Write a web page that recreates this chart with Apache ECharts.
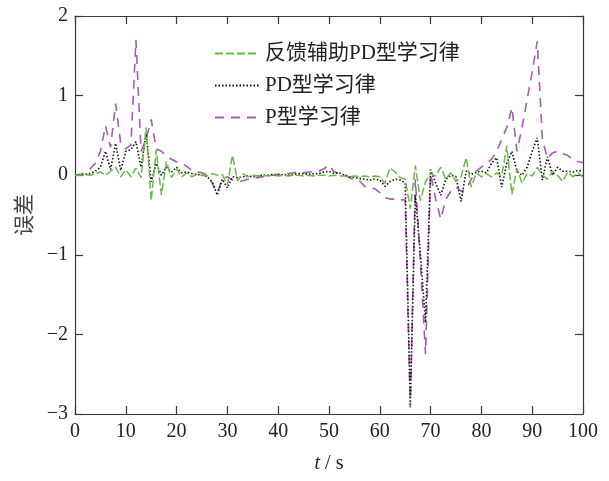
<!DOCTYPE html>
<html>
<head>
<meta charset="utf-8">
<script src="https://cdn.jsdelivr.net/npm/echarts@6/dist/echarts.min.js"></script>
<style>
  html, body { margin: 0; padding: 0; background: #fff; }
  #chart { width: 609px; height: 481px; }
</style>
</head>
<body>
<div id="chart"></div>
<script>
// Tracking error of three iterative learning laws, sampled once per second, t = 0 … 100 s
const seriesNames = ['反馈辅助PD型学习律', 'PD型学习律', 'P型学习律'];

const errFeedbackPD = [
  0, 0.0, 0.01, 0.0, 0.02, 0.04, 0.0, 0.05, 0.1, -0.02,
  0.07, -0.02, 0.09, -0.03, 0.6, -0.32, 0.32, -0.25, 0.17, -0.03,
  0.08, -0.02, 0.03, -0.02, 0.01, 0.0, -0.01, 0.02, 0.0, 0.01,
  -0.12, 0.25, -0.07, 0.02, -0.02, 0.0, -0.01, 0.0, -0.01, 0.0,
  -0.01, 0.0, -0.01, 0.0, 0.0, -0.01, 0.0, -0.01, 0.0, 0.0,
  -0.01, 0.0, -0.01, -0.01, -0.02, -0.01, -0.02, -0.01, -0.02, -0.01,
  -0.02, -0.1, 0.09, 0.04, -0.03, -0.05, -0.42, 0.12, -0.32, -0.08,
  0.02, -0.01, 0.1, -0.05, 0.03, -0.08, -0.02, 0.22, -0.15, 0.03,
  -0.02, 0.02, -0.02, 0.03, -0.01, 0.37, -0.24, 0.08, -0.1, 0.02,
  -0.01, 0.1, 0.0, -0.05, 0.05, 0.0, -0.08, 0.04, -0.02, 0.03,
  -0.02
];

const errPD = [
  0, 0.0, 0.01, 0.02, 0.05, 0.1, 0.3, 0.07, 0.4, 0.06,
  0.3, 0.32, 0.42, 0.1, 0.52, -0.08, 0.15, 0.0, 0.1, 0.04,
  0.1, 0.03, 0.04, 0.02, 0.01, 0.0, -0.02, -0.08, -0.25, -0.05,
  -0.16, -0.02, -0.03, -0.02, -0.01, -0.02, -0.01, 0.0, 0.0, 0.01,
  0.0, 0.01, 0.0, 0.01, 0.02, 0.02, 0.01, 0.02, 0.02, 0.04,
  0.05, 0.02, 0.03, 0.0, -0.02, -0.03, -0.04, -0.05, -0.06, -0.05,
  -0.06, -0.14, -0.08, -0.05, -0.06, -0.1, -2.88, -0.25, -1.0, -1.85,
  0.07, -0.1, -0.25, -0.05, 0.0, -0.02, -0.33, 0.05, 0.01, 0.04,
  0.05, 0.03, 0.15, 0.22, -0.15, 0.15, 0.3, 0.05, 0.0, 0.1,
  0.3, 0.47, -0.06, 0.23, 0.0, 0.1, 0.05, 0.05, 0.04, 0.06,
  0.05
];

const errP = [
  0, 0.01, 0.03, 0.08, 0.15, 0.3, 0.62, 0.35, 0.9, 0.4,
  0.33, 0.38, 1.7, 0.3, 0.45, 0.7, 0.33, 0.3, 0.24, 0.2,
  0.17, 0.15, 0.11, 0.06, 0.04, 0.03, 0.0, -0.1, -0.22, -0.05,
  -0.02, -0.06, -0.08, -0.07, -0.05, -0.04, -0.03, -0.02, 0.0, 0.0,
  0.01, 0.02, 0.02, 0.03, 0.04, 0.03, 0.04, 0.04, 0.05, 0.08,
  0.13, 0.04, 0.02, 0.01, -0.03, -0.06, -0.07, -0.14, -0.16, -0.17,
  -0.22, -0.28, -0.3, -0.3, -0.31, -0.31, -2.92, -0.05, -1.1, -2.25,
  0.02, -0.3, -0.55, -0.3, -0.2, -0.15, -0.2, -0.18, -0.05, 0.05,
  0.1, 0.15, 0.2, 0.3, 0.45, 0.6, 0.85, 0.3, 0.6, 0.95,
  1.3, 1.68, 0.45, 0.21, 0.28, 0.3, 0.27, 0.25, 0.2, 0.17,
  0.16
];

const xTicks = { min: 0, max: 100, interval: 10 };
const yTicks = { min: -3, max: 2, interval: 1 };

const pairs = arr => arr.map((v, i) => [i, v]);
const signed = v => (v < 0 ? '\u2212' + Math.abs(v) : String(v));

const serif = '"Liberation Serif", "Times New Roman", "Noto Sans CJK SC", serif';
const axisColor = '#3a3a3a';

const baseAxis = {
  axisLine: { show: true, onZero: false, lineStyle: { color: axisColor, width: 1.2 } },
  axisTick: { show: true, inside: true, length: 8, lineStyle: { color: axisColor, width: 1.2 } },
  splitLine: { show: false }
};

const chart = echarts.init(document.getElementById('chart'), null, { renderer: 'canvas' });

chart.setOption({
  backgroundColor: '#ffffff',
  animation: false,
  grid: { left: 75, right: 26, top: 16, bottom: 67, containLabel: false },
  legend: {
    orient: 'vertical',
    left: 209,
    top: 38,
    itemWidth: 44,
    itemHeight: 14,
    itemGap: 11,
    data: seriesNames,
    itemStyle: { opacity: 0 },
    textStyle: { fontFamily: serif, fontSize: 21, color: '#222', padding: [0, 0, 0, 1] }
  },
  xAxis: [
    Object.assign({}, baseAxis, {
      type: 'value', position: 'bottom',
      min: xTicks.min, max: xTicks.max, interval: xTicks.interval,
      axisLabel: { fontFamily: serif, fontSize: 20, color: '#222', margin: 8 },
      name: '{i|t} / s',
      nameLocation: 'middle',
      nameGap: 40,
      nameTextStyle: {
        fontFamily: serif, fontSize: 20, color: '#222',
        rich: { i: { fontFamily: serif, fontSize: 20, fontStyle: 'italic', color: '#222' } }
      }
    }),
    Object.assign({}, baseAxis, {
      type: 'value', position: 'top',
      min: xTicks.min, max: xTicks.max, interval: xTicks.interval,
      axisLabel: { show: false }
    })
  ],
  yAxis: [
    Object.assign({}, baseAxis, {
      type: 'value', position: 'left',
      min: yTicks.min, max: yTicks.max, interval: yTicks.interval,
      axisLabel: { fontFamily: serif, fontSize: 20, color: '#222', margin: 7, formatter: signed },
      name: '误差',
      nameLocation: 'middle',
      nameGap: 36,
      nameRotate: 90,
      nameTextStyle: { fontFamily: serif, fontSize: 21, color: '#444' }
    }),
    Object.assign({}, baseAxis, {
      type: 'value', position: 'right',
      min: yTicks.min, max: yTicks.max, interval: yTicks.interval,
      axisLabel: { show: false }
    })
  ],
  series: [
    {
      name: seriesNames[2], type: 'line', symbol: 'none',
      data: pairs(errP),
      lineStyle: { color: '#aa5ab4', width: 1.6, type: [9, 7] },
      itemStyle: { color: '#aa5ab4' }
    },
    {
      name: seriesNames[1], type: 'line', symbol: 'none',
      data: pairs(errPD),
      lineStyle: { color: '#111111', width: 1.6, type: [1.5, 2] },
      itemStyle: { color: '#111111' }
    },
    {
      name: seriesNames[0], type: 'line', symbol: 'none',
      data: pairs(errFeedbackPD),
      lineStyle: { color: '#66bb44', width: 1.5, type: [8, 3] },
      itemStyle: { color: '#66bb44' }
    }
  ]
});
</script>
</body>
</html>
